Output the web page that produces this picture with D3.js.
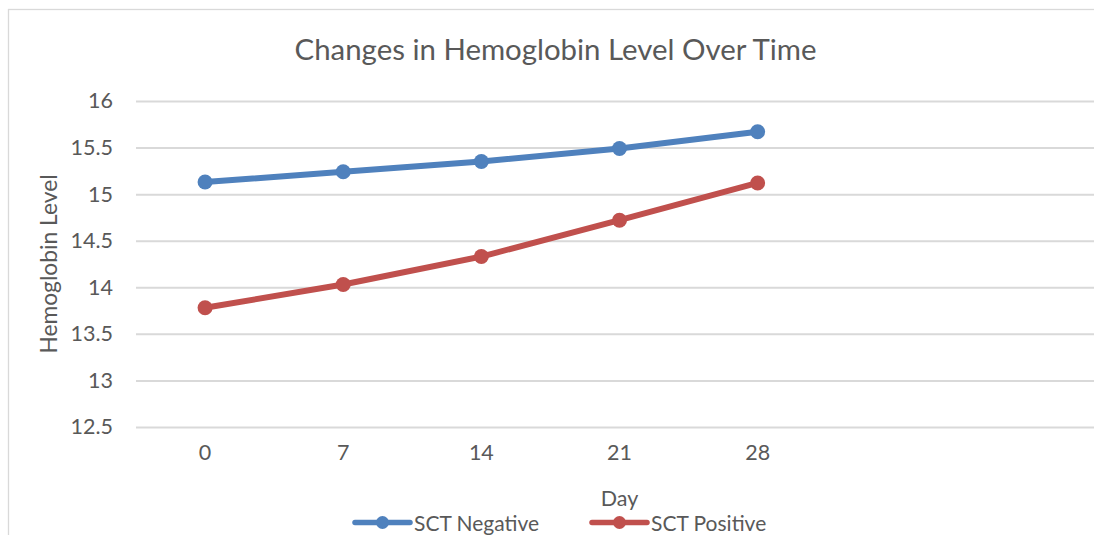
<!DOCTYPE html>
<html>
<head>
<meta charset="utf-8">
<script src="https://cdn.jsdelivr.net/npm/d3@7"></script>
<style>
  html, body { margin: 0; padding: 0; background: #fff; overflow: hidden; }
  svg { display: block; font-family: Lato, "Open Sans", sans-serif; }
</style>
</head>
<body>
<svg id="chart" width="1094" height="535"></svg>
<script>
// data
const days = ["0", "7", "14", "21", "28"];
const sctNegative = [15.13, 15.24, 15.35, 15.49, 15.67];
const sctPositive = [13.78, 14.03, 14.33, 14.72, 15.12];
const yTicks = [12.5, 13, 13.5, 14, 14.5, 15, 15.5, 16];

const seriesList = [
  { name: "SCT Negative", values: sctNegative, color: "#4f81bd" },
  { name: "SCT Positive", values: sctPositive, color: "#c0504d" }
];

const textColor = "#595959";
const gridColor = "#d9d9d9";

// plot area (the Excel axis has 7 slots, the last two empty, cut off at the right)
const plot = { left: 136, right: 1103, top: 101, bottom: 427 };
const slots = 7;
const step = (plot.right - plot.left) / slots;

const svg = d3.select("#chart");

// chart border
svg.append("rect")
  .attr("x", 8.5).attr("y", 9.5)
  .attr("width", 1110).attr("height", 560)
  .attr("fill", "#fff")
  .attr("stroke", gridColor)
  .attr("stroke-width", 1.3);

const x = d3.scaleBand()
  .domain(days)
  .range([plot.left, plot.left + step * days.length])
  .padding(0);

const y = d3.scaleLinear()
  .domain([12.5, 16])
  .range([plot.bottom, plot.top]);

const cx = d => x(d) + x.bandwidth() / 2;

// gridlines + y labels
const yAxis = d3.axisLeft(y)
  .tickValues(yTicks)
  .tickSize(-(plot.right - plot.left))
  .tickPadding(23)
  .tickFormat(d3.format("~g"));

svg.append("g")
  .attr("transform", `translate(${plot.left},0)`)
  .call(yAxis)
  .call(g => g.select(".domain").remove())
  .call(g => g.selectAll(".tick line").attr("stroke", gridColor).attr("stroke-width", 2))
  .call(g => g.selectAll(".tick text")
    .attr("fill", textColor)
    .attr("font-size", 21.5)
    .attr("font-family", "Lato, sans-serif"));

// x labels
const xAxis = d3.axisBottom(x).tickSize(0).tickPadding(18);
svg.append("g")
  .attr("transform", `translate(0,${plot.bottom})`)
  .call(xAxis)
  .call(g => g.select(".domain").remove())
  .call(g => g.selectAll(".tick text")
    .attr("fill", textColor)
    .attr("font-size", 21.5)
    .attr("font-family", "Lato, sans-serif"));

// title
svg.append("text")
  .attr("x", 555.5).attr("y", 60)
  .attr("text-anchor", "middle")
  .attr("fill", textColor)
  .attr("font-size", 29.4)
  .text("Changes in Hemoglobin Level Over Time");

// axis titles
svg.append("text")
  .attr("x", (plot.left + plot.right) / 2).attr("y", 506)
  .attr("text-anchor", "middle")
  .attr("fill", textColor)
  .attr("font-size", 21.5)
  .text("Day");

svg.append("text")
  .attr("transform", "translate(56.5,264) rotate(-90)")
  .attr("text-anchor", "middle")
  .attr("fill", textColor)
  .attr("font-size", 22.8)
  .text("Hemoglobin Level");

// series
const line = d3.line()
  .x((v, i) => cx(days[i]))
  .y(v => y(v));

seriesList.forEach(s => {
  const g = svg.append("g");
  g.append("path")
    .datum(s.values)
    .attr("fill", "none")
    .attr("stroke", s.color)
    .attr("stroke-width", 6)
    .attr("stroke-linejoin", "round")
    .attr("stroke-linecap", "round")
    .attr("d", line);
  g.selectAll("circle")
    .data(s.values)
    .join("circle")
    .attr("cx", (v, i) => cx(days[i]))
    .attr("cy", v => y(v))
    .attr("r", 7.5)
    .attr("fill", s.color);
});

// legend
const legendX = [355, 592];
const legendY = 522.5;
const legend = svg.append("g");
seriesList.forEach((s, i) => {
  const g = legend.append("g").attr("transform", `translate(${legendX[i]},${legendY})`);
  g.append("line")
    .attr("x1", 0).attr("x2", 55)
    .attr("stroke", s.color)
    .attr("stroke-width", 5.5)
    .attr("stroke-linecap", "round");
  g.append("circle")
    .attr("cx", 27.5).attr("r", 6.5)
    .attr("fill", s.color);
  g.append("text")
    .attr("x", 59).attr("y", 8)
    .attr("fill", textColor)
    .attr("font-size", 21)
    .text(s.name);
});
</script>
</body>
</html>
